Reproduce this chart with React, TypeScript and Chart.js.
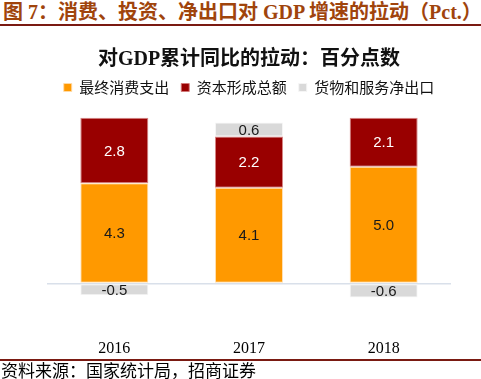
import React, { useEffect, useRef } from "react";
import { Chart, registerables } from "chart.js";

Chart.register(...registerables);

const categories = ["2016", "2017", "2018"];
const consumption = [4.3, 4.1, 5.0];
const capital = [2.8, 2.2, 2.1];
const netExports = [-0.5, 0.6, -0.6];
const seriesNames = ["最终消费支出", "资本形成总额", "货物和服务净出口"];

const CJK = '"Noto Sans CJK SC"';
const SERIF = '"Liberation Serif", "Noto Sans CJK SC"';

const labelPlugin = {
  id: "barLabels",
  afterDatasetsDraw(chart: any) {
    const ctx = chart.ctx;
    const colors = ["#1a1a1a", "#ffffff", "#1a1a1a"];
    ctx.save();
    ctx.font = '15px "Liberation Sans", Arial, sans-serif';
    ctx.textAlign = "center";
    ctx.textBaseline = "middle";
    chart.data.datasets.forEach((ds: any, i: number) => {
      const meta = chart.getDatasetMeta(i);
      meta.data.forEach((el: any, j: number) => {
        const v = ds.data[j];
        ctx.fillStyle = colors[i];
        ctx.fillText(v.toFixed(1), el.x, (el.y + el.base) / 2 + 1);
      });
    });
    ctx.restore();
  },
};

export default function App() {
  const ref = useRef<HTMLCanvasElement>(null);
  useEffect(() => {
    document.body.style.margin = "0";
    const chart = new Chart(ref.current as HTMLCanvasElement, {
      type: "bar",
      data: {
        labels: categories,
        datasets: [
          { label: seriesNames[0], data: consumption, backgroundColor: "#FF9900", borderColor: "rgba(255,220,170,0.9)", borderWidth: 1, borderSkipped: false },
          { label: seriesNames[1], data: capital, backgroundColor: "#990000", borderColor: "rgba(210,120,120,0.9)", borderWidth: 1, borderSkipped: false },
          { label: seriesNames[2], data: netExports, backgroundColor: "#D9D9D9", borderColor: "rgba(245,245,245,1)", borderWidth: 1, borderSkipped: false },
        ],
      },
      options: {
        animation: false,
        responsive: false,
        maintainAspectRatio: false,
        layout: { padding: { left: 47, right: 30, top: 8, bottom: 0 } },
        datasets: { bar: { categoryPercentage: 1, barPercentage: 0.505 } },
        plugins: {
          title: {
            display: true,
            text: "对GDP累计同比的拉动：百分点数",
            color: "#111",
            font: { family: SERIF, size: 20, weight: "bold" },
            padding: { top: 10, bottom: -4 },
          },
          legend: {
            display: true,
            labels: {
              boxWidth: 8,
              boxHeight: 8,
              padding: 12,
              color: "#111",
              font: { family: CJK, size: 15 },
            },
          },
          tooltip: { enabled: false },
        },
        scales: {
          x: {
            stacked: true,
            grid: { display: false, drawTicks: false },
            border: { display: false },
            ticks: { color: "#000", font: { family: SERIF, size: 16 }, padding: 4 },
          },
          y: {
            stacked: true,
            min: -2.2,
            max: 7.65,
            ticks: { display: false, stepSize: 1 },
            border: { display: false },
            grid: {
              drawTicks: false,
              color: (c: any) => (c.tick && c.tick.value === 0 ? "#D9E0EA" : "rgba(0,0,0,0)"),
              lineWidth: 1.5,
            },
            afterFit: (s: any) => {
              s.width = 0;
            },
          },
        },
      },
      plugins: [labelPlugin],
    });
    return () => chart.destroy();
  }, []);

  return (
    <div style={{ position: "absolute", left: 0, top: 0, width: 481, height: 379, background: "#fff", overflow: "hidden" }}>
      <div
        style={{
          position: "absolute",
          left: 3,
          top: 0,
          whiteSpace: "nowrap",
          fontFamily: SERIF,
          fontWeight: "bold",
          fontSize: 20,
          lineHeight: "24px",
          color: "#A0440C",
        }}
      >
        图 7：消费、投资、净出口对 GDP 增速的拉动（Pct.）
      </div>
      <div style={{ position: "absolute", left: 0, top: 24, width: 481, height: 2, background: "#7A1A12" }} />
      <div style={{ position: "absolute", left: 0, top: 359, width: 481, height: 2, background: "#7A1A12" }} />
      <canvas ref={ref} width={481} height={332} style={{ position: "absolute", left: 0, top: 30, width: 481, height: 332 }} />
      <div
        style={{
          position: "absolute",
          left: 1,
          top: 361,
          whiteSpace: "nowrap",
          fontFamily: CJK,
          fontSize: 17,
          lineHeight: "18px",
          color: "#000",
        }}
      >
        资料来源：国家统计局，招商证券
      </div>
    </div>
  );
}
